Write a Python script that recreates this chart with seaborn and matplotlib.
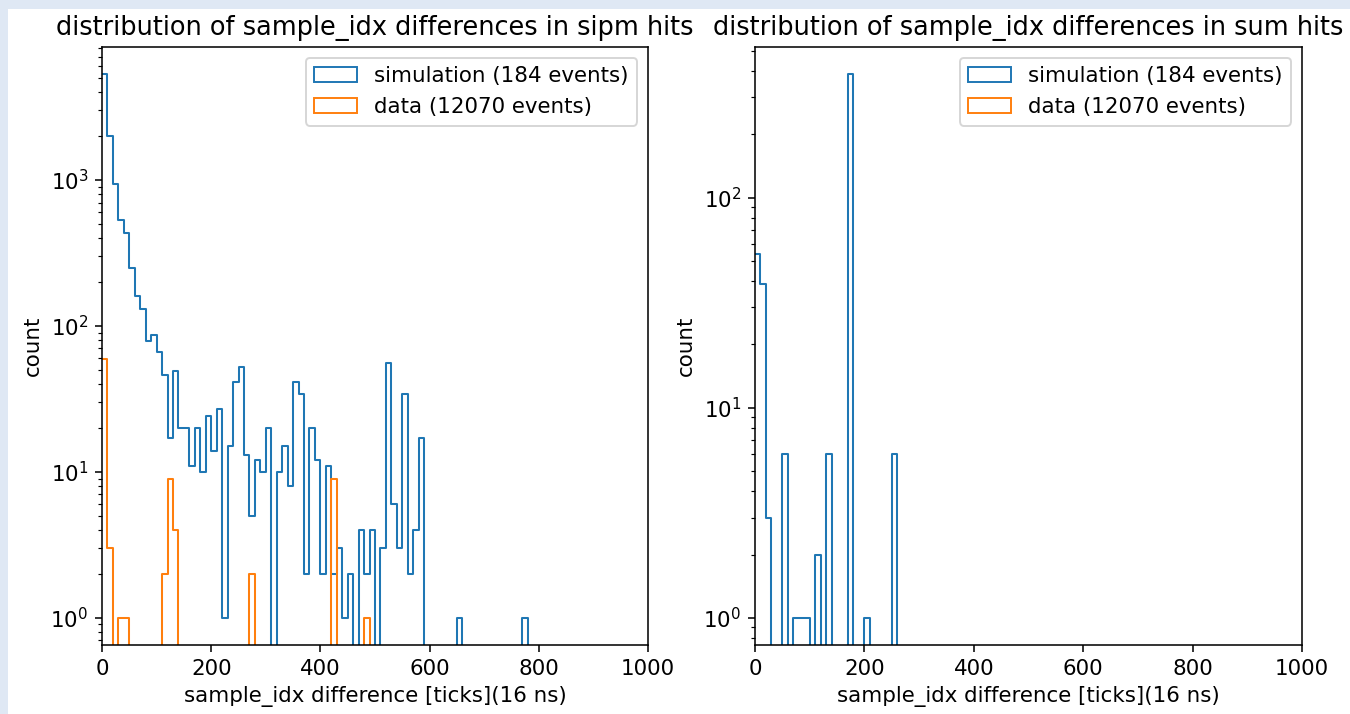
import numpy as np
import pandas as pd
import matplotlib
matplotlib.use("Agg")
import matplotlib.pyplot as plt
from matplotlib.patches import Patch, Rectangle
import seaborn as sns

# ---- data (counts per 10-tick bin, bins from 0 to 1000) ----
bin_left = list(range(0, 1000, 10))
bin_width = 10

sipm_sim_counts = [
    5300, 2000, 940, 530, 430, 250, 160, 130, 79, 87,
    66, 46, 17, 49, 20, 20, 11, 20, 10, 24,
    14, 27, 1, 15, 41, 52, 13, 5, 12, 10,
    20, 0, 10, 15, 8, 41, 34, 2, 20, 12,
    2, 11, 2, 3, 1, 2, 0, 4, 2, 4,
    0, 3, 56, 6, 3, 34, 2, 4, 17, 0,
    0, 0, 0, 0, 0, 1, 0, 0, 0, 0,
    0, 0, 0, 0, 0, 0, 0, 1, 0, 0,
    0, 0, 0, 0, 0, 0, 0, 0, 0, 0,
    0, 0, 0, 0, 0, 0, 0, 0, 0, 0,
]
sipm_data_counts = [
    59, 3, 0, 1, 1, 0, 0, 0, 0, 0,
    0, 2, 9, 4, 0, 0, 0, 0, 0, 0,
    0, 0, 0, 0, 0, 0, 0, 2, 0, 0,
    0, 0, 0, 0, 0, 0, 0, 0, 0, 0,
    0, 0, 9, 0, 0, 0, 0, 0, 1, 0,
] + [0] * 50
sum_sim_counts = [
    54, 39, 3, 0, 0, 6, 0, 1, 1, 1,
    0, 2, 0, 6, 0, 0, 0, 387, 0, 0,
    1, 0, 0, 0, 0, 6, 0, 0, 0, 0,
] + [0] * 70
sum_data_counts = [0] * 100

series_labels = ["simulation (184 events)", "data (12070 events)"]
titles = ["distribution of sample_idx differences in sipm hits",
          "distribution of sample_idx differences in sum hits"]
xlabel = "sample_idx difference [ticks](16 ns)"
ylabel = "count"

colors = ["#1f77b4", "#ff7f0e"]

plt.rcParams["font.size"] = 11
plt.rcParams["lines.linewidth"] = 1.05

# ---- figure ----
W, H, DPI = 1350, 714, 140
fig = plt.figure(figsize=(W / DPI, H / DPI), dpi=DPI)
fig.patch.set_facecolor("white")
border = "#dfe8f4"
fig.patches.append(Rectangle((0, 1 - 9 / H), 1, 9 / H, transform=fig.transFigure,
                             facecolor=border, edgecolor="none", zorder=0))
fig.patches.append(Rectangle((0, 0), 8 / W, 1, transform=fig.transFigure,
                             facecolor=border, edgecolor="none", zorder=0))

ax_pos = [
    [102 / W, 1 - 645 / H, (648 - 102) / W, (645 - 47) / H],
    [755 / W, 1 - 645 / H, (1302 - 755) / W, (645 - 47) / H],
]
centers = np.array(bin_left) + bin_width / 2

panels = [
    (sipm_sim_counts, sipm_data_counts),
    (sum_sim_counts, sum_data_counts),
]

for i, (sim, dat) in enumerate(panels):
    ax = fig.add_axes(ax_pos[i])
    for counts, col, lab in zip((sim, dat), colors, series_labels):
        w = np.array(counts, dtype=float)
        if w.sum() == 0:
            continue
        df = pd.DataFrame({"x": centers, "w": w})
        sns.histplot(data=df, x="x", weights="w", binwidth=bin_width,
                     binrange=(bin_left[0], bin_left[-1] + bin_width),
                     element="step", fill=False, color=col, linewidth=1.05, ax=ax)
    ax.set_yscale("log")
    ax.set_xlim(0, 1000)
    ax.relim()
    ax.autoscale_view(scalex=False, scaley=True)
    ax.set_title(titles[i])
    ax.set_xlabel(xlabel)
    ax.set_ylabel(ylabel)
    handles = [Patch(facecolor="none", edgecolor=c, label=l)
               for c, l in zip(colors, series_labels)]
    ax.legend(handles=handles, loc="upper right")

fig.savefig("out.png", dpi=DPI)
